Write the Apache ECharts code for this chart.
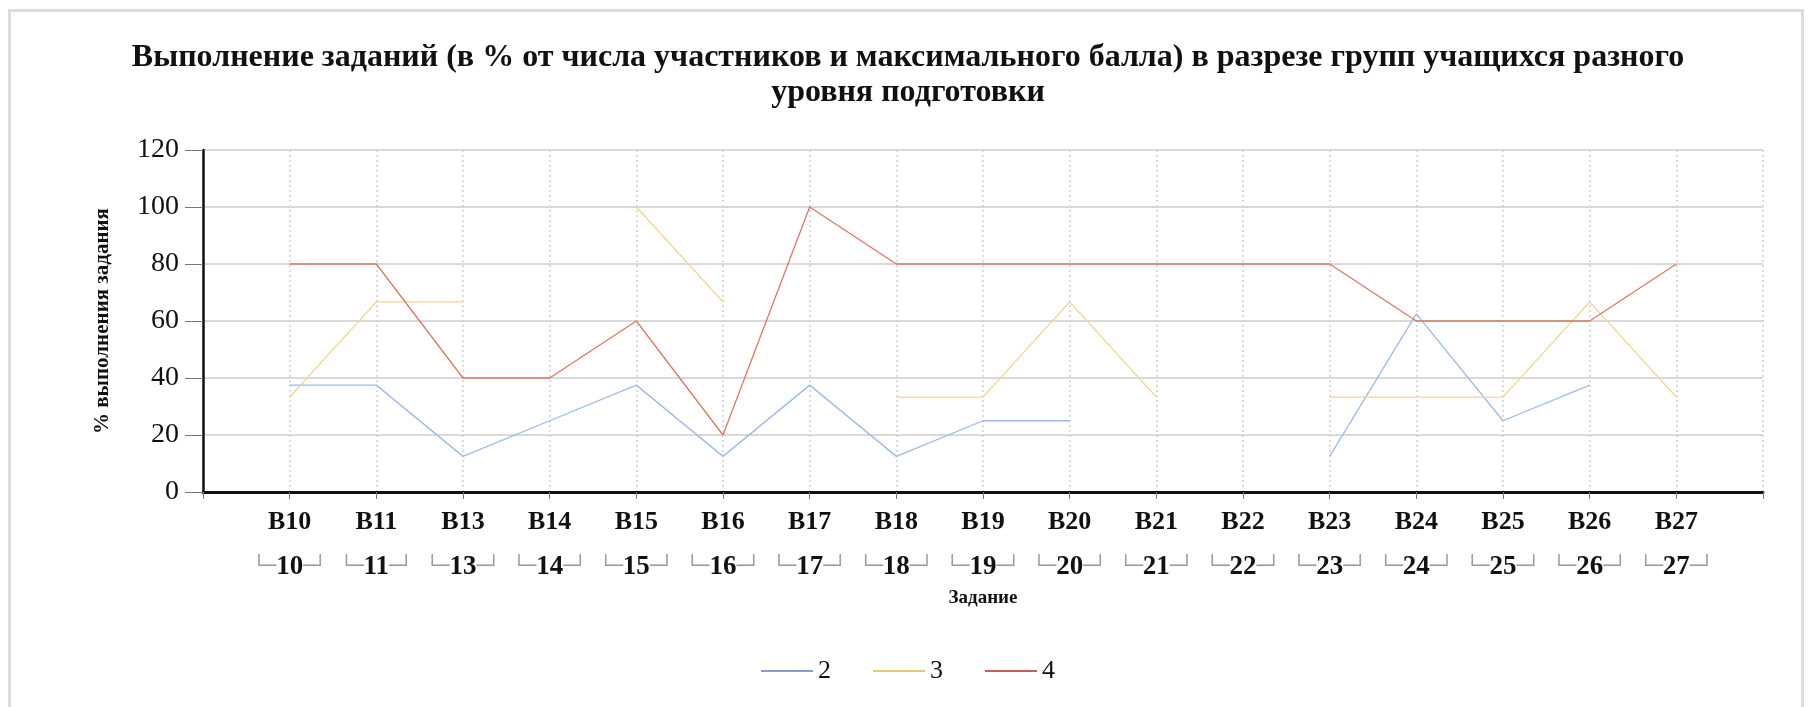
<!DOCTYPE html>
<html>
<head>
<meta charset="utf-8">
<script src="https://cdn.jsdelivr.net/npm/echarts@6/dist/echarts.min.js"></script>
<style>
  html, body { margin: 0; padding: 0; background: #fff; }
  #frame { position: absolute; left: 8px; top: 9px; width: 1796px; height: 720px; border: 3px solid #dcdcdc; box-sizing: border-box; }
  #chart { position: absolute; left: 0; top: 0; width: 1816px; height: 707px; }
</style>
</head>
<body>
<div id="frame"></div>
<div id="chart"></div>
<script>
const titleText = 'Выполнение заданий (в % от числа участников и максимального балла) в разрезе групп учащихся разного\nуровня подготовки';
const categories = ['В10','В11','В13','В14','В15','В16','В17','В18','В19','В20','В21','В22','В23','В24','В25','В26','В27'];
const groupLabels = ['10','11','13','14','15','16','17','18','19','20','21','22','23','24','25','26','27'];
const seriesNames = ['2', '3', '4'];
const values2 = [37.5, 37.5, 12.5, 25, 37.5, 12.5, 37.5, 12.5, 25, 25, null, null, 12.5, 62.5, 25, 37.5, null];
const values3 = [33.3, 66.7, 66.7, null, 100, 66.7, null, 33.3, 33.3, 66.7, 33.3, null, 33.3, 33.3, 33.3, 66.7, 33.3];
const values4 = [80, 80, 40, 40, 60, 20, 100, 80, 80, 80, 80, 80, 80, 60, 60, 60, 80];
const yTicks = { min: 0, max: 120, interval: 20 };
const lineColors = ['#9dbbe6', '#f5d28e', '#d67a68'];
const legendColors = ['#7fa0d2', '#e9c870', '#c85e52'];

const FONT = '"Liberation Serif", "Times New Roman", serif';
const toPoints = arr => arr.map((v, i) => [i + 1, v == null ? '-' : v]);

const chart = echarts.init(document.getElementById('chart'));
chart.setOption({
  animation: false,
  backgroundColor: 'transparent',
  title: {
    text: titleText,
    left: 'center',
    top: 35,
    textStyle: { fontFamily: FONT, fontSize: 32, fontWeight: 'bold', color: '#111', lineHeight: 35 }
  },
  grid: { left: 203, right: 53, top: 150, bottom: 215, containLabel: false },
  legend: {
    data: seriesNames.map((n, i) => ({ name: n, itemStyle: { color: legendColors[i] } })),
    left: 'center',
    top: 653,
    icon: 'rect',
    itemWidth: 52,
    itemHeight: 2,
    itemGap: 42,
    textStyle: { fontFamily: FONT, fontSize: 26, color: '#111' }
  },
  xAxis: {
    type: 'value',
    min: 0,
    max: categories.length + 1,
    interval: 1,
    name: 'Задание',
    nameLocation: 'middle',
    nameGap: 97,
    nameTextStyle: { fontFamily: FONT, fontSize: 19, fontWeight: 'bold', color: '#111' },
    axisLine: { show: true, lineStyle: { color: '#111', width: 3 } },
    axisTick: { show: true, length: 7, lineStyle: { color: '#777', width: 1 } },
    splitLine: { show: true, lineStyle: { color: '#cfcfcf', type: [2, 3], width: 1.5 } },
    axisLabel: {
      margin: 8,
      showMinLabel: true,
      showMaxLabel: true,
      formatter: function (v) {
        const i = Math.round(v) - 1;
        if (i < 0 || i >= categories.length) return '';
        return '{a|' + categories[i] + '}\n{b|└─}{c|' + groupLabels[i] + '}{b|─┘}';
      },
      rich: {
        a: { fontFamily: FONT, fontSize: 26, fontWeight: 'bold', color: '#111', lineHeight: 45 },
        b: { fontFamily: '"DejaVu Sans", sans-serif', fontSize: 19, color: '#9a9a9a', lineHeight: 45 },
        c: { fontFamily: FONT, fontSize: 27, fontWeight: 'bold', color: '#111', lineHeight: 45 }
      }
    }
  },
  yAxis: {
    type: 'value',
    min: yTicks.min,
    max: yTicks.max,
    interval: yTicks.interval,
    name: '% выполнения задания',
    nameLocation: 'middle',
    nameRotate: 90,
    nameGap: 90,
    nameTextStyle: { fontFamily: FONT, fontSize: 21, fontWeight: 'bold', color: '#111' },
    axisLine: { show: true, lineStyle: { color: '#111', width: 2.5 } },
    axisTick: { show: true, length: 18, lineStyle: { color: '#777', width: 1 } },
    splitLine: { show: true, lineStyle: { color: '#d9d9d9', width: 2 } },
    axisLabel: { margin: 24, fontFamily: FONT, fontSize: 28, color: '#111' }
  },
  series: [
    { name: seriesNames[0], type: 'line', data: toPoints(values2), showSymbol: false, connectNulls: false, color: legendColors[0], lineStyle: { width: 1.3, color: lineColors[0] } },
    { name: seriesNames[1], type: 'line', data: toPoints(values3), showSymbol: false, connectNulls: false, color: legendColors[1], lineStyle: { width: 1.3, color: lineColors[1] } },
    { name: seriesNames[2], type: 'line', data: toPoints(values4), showSymbol: false, connectNulls: false, color: legendColors[2], lineStyle: { width: 1.3, color: lineColors[2] } }
  ]
});
</script>
</body>
</html>
